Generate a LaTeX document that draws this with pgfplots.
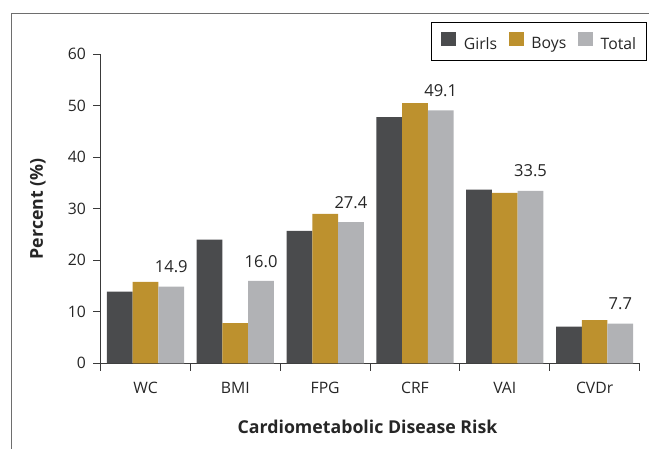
\documentclass[border=0pt]{standalone}
\usepackage{pgfplots}
\pgfplotsset{compat=1.18}
\usepackage{fontspec}
\setmainfont{Open Sans}
\definecolor{girls}{HTML}{4A4B4D}
\definecolor{boys}{HTML}{BD912E}
\definecolor{total}{HTML}{B1B2B5}
\definecolor{txt}{HTML}{262626}
\definecolor{axcol}{HTML}{3A3A3A}
\definecolor{frame}{HTML}{6E6E6E}
\begin{document}
\begin{tikzpicture}
\useasboundingbox (0pt,0pt) rectangle (486.75pt,336.75pt);
\begin{scope}
\clip (0pt,0pt) rectangle (486.75pt,336.75pt);
\draw[color=frame, line width=0.8pt] (8.78pt,-20pt) -- (8.78pt,326.8pt) -- (520pt,326.8pt);
\end{scope}
\begin{axis}[
  at={(75.45pt,64.28pt)}, anchor=south west,
  scale only axis, width=404.2pt, height=231.75pt,
  xmin=-0.5, xmax=5.5, ymin=0, ymax=60,
  axis x line=bottom, axis y line=left,
  axis line style={-, draw=axcol, line width=0.8pt},
  tick style={draw=axcol, line width=0.8pt},
  tick align=outside, major tick length=5.5pt,
  xtick={-0.5,0.5,1.5,2.5,3.5,4.5,5.5},
  x tick label as interval,
  xticklabels={WC,BMI,FPG,CRF,VAI,CVDr},
  ytick={0,10,...,60},
  /pgf/number format/assume math mode=true,
  ticklabel style={font=\fontsize{11.8}{13}\selectfont, color=txt},
  xticklabel style={yshift=-5pt},
  yticklabel style={xshift=-2pt},
  xlabel={Cardiometabolic Disease Risk},
  ylabel={Percent (\%)},
  xlabel style={font=\fontsize{13.3}{15}\bfseries, color=txt, at={(axis description cs:0.4953,-0.205)}, anchor=center},
  ylabel style={font=\fontsize{13.3}{15}\bfseries, color=txt, at={(axis description cs:-0.1162,0.5)}, anchor=center},
  ybar, bar width=19.3pt,
  legend style={at={(1.013,1.1055)}, anchor=north east, draw=black, line width=0.75pt,
    legend columns=3, font=\fontsize{11.8}{13}\selectfont, text=txt,
    inner xsep=7.5pt, inner ysep=7pt,
    nodes={inner sep=0pt},
    /tikz/every odd column/.append style={column sep=5.5pt},
    /tikz/every even column/.append style={column sep=9pt}},
  legend image code/.code={\fill[#1] (0pt,-1.6pt) rectangle (11.25pt,9.6pt);},
]
\addplot[fill=girls, draw=none, bar shift=-19.3pt] coordinates {(0,13.9) (1,24.0) (2,25.7) (3,47.8) (4,33.7) (5,7.1)};
\addplot[fill=boys, draw=none, bar shift=0pt] coordinates {(0,15.8) (1,7.8) (2,29.0) (3,50.5) (4,33.1) (5,8.4)};
\addplot[fill=total, draw=none, bar shift=19.3pt,
  nodes near coords={\pgfmathprintnumber[fixed, fixed zerofill, precision=1]{\pgfplotspointmeta}},
  every node near coord/.append style={font=\fontsize{12.4}{14}\selectfont, color=txt, inner sep=0pt, anchor=south, yshift=10pt}]
  coordinates {(0,14.9) (1,16.0) (2,27.4) (3,49.1) (4,33.5) (5,7.7)};
\legend{Girls,Boys,Total}
\end{axis}
\end{tikzpicture}
\end{document}
